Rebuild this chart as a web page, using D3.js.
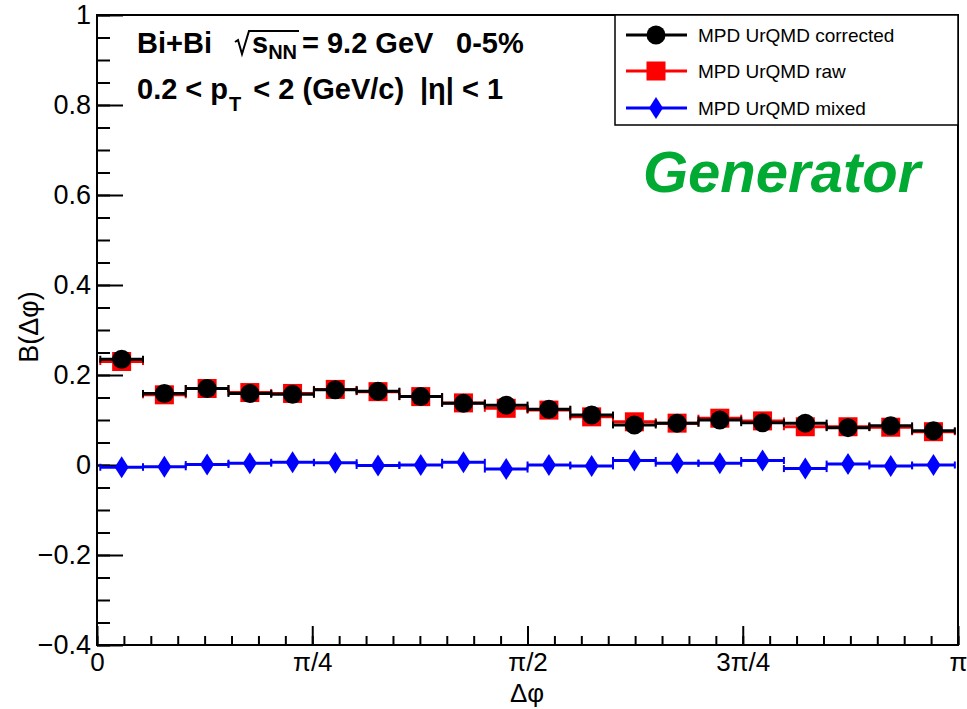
<!doctype html>
<html lang="en">
  <head>
    <meta charset="UTF-8" />
    <title>B(dphi) Bi+Bi</title>
    <script src="https://d3js.org/d3.v7.min.js"></script>
    <style>
      body { margin: 0; background: #fff; }
      text { font-family: "Liberation Sans", Arial, sans-serif; }
    </style>
  </head>
  <body>
    <div id="graph"></div>
    <script>
    // histogram content, 20 bins in delta phi
    var nBins = 20;
    var phiMin = 0.012, phiMax = 3.130;
    var corrected = [0.235, 0.159, 0.170, 0.159, 0.157, 0.167, 0.164, 0.152, 0.137, 0.133,
                     0.124, 0.111, 0.089, 0.093, 0.100, 0.094, 0.093, 0.083, 0.087, 0.076];
    var raw = [0.230, 0.156, 0.170, 0.161, 0.159, 0.168, 0.163, 0.152, 0.138, 0.126,
               0.122, 0.107, 0.096, 0.093, 0.104, 0.098, 0.085, 0.085, 0.084, 0.074];
    var mixed = [-0.005, -0.004, 0.001, 0.004, 0.006, 0.005, -0.001, 0.000, 0.006, -0.009,
                 0.000, -0.002, 0.010, 0.004, 0.004, 0.010, -0.008, 0.002, -0.002, 0.000];

    var xTickValues = [0, Math.PI / 4, Math.PI / 2, 3 * Math.PI / 4, Math.PI];
    var xTickLabels = ["0", "\u03c0/4", "\u03c0/2", "3\u03c0/4", "\u03c0"];
    var yTickValues = [-0.4, -0.2, 0, 0.2, 0.4, 0.6, 0.8, 1];
    var yTickLabels = ["\u22120.4", "\u22120.2", "0", "0.2", "0.4", "0.6", "0.8", "1"];

    var legendNames = ["MPD UrQMD corrected", "MPD UrQMD raw", "MPD UrQMD mixed"];

    var width = 967, height = 709;
    var padL = 97, padR = 958, padT = 15, padB = 645;

    var svg = d3.select("#graph").append("svg")
        .attr("width", width)
        .attr("height", height);

    var x = d3.scaleLinear().domain([0, Math.PI]).range([padL, padR]);
    var y = d3.scaleLinear().domain([-0.4, 1]).range([padB, padT]);

    var binW = (phiMax - phiMin) / nBins;

    // axes (ticks point inwards like ROOT)
    var xMinor = d3.range(0, 33).map(function(i) { return i * Math.PI / 32; });
    var yMinor = d3.range(-8, 21).map(function(i) { return i * 0.05; });

    svg.append("g")
        .attr("transform", "translate(0," + padB + ")")
        .call(d3.axisBottom(x).tickValues(xMinor).tickSize(-9).tickFormat(""))
        .call(function(g) { g.select(".domain").remove(); });
    svg.append("g")
        .attr("class", "xaxis")
        .attr("transform", "translate(0," + padB + ")")
        .call(d3.axisBottom(x).tickValues(xTickValues).tickSize(-19).tickPadding(8)
            .tickFormat(function(d, i) { return xTickLabels[i]; }))
        .call(function(g) { g.select(".domain").remove(); });

    svg.append("g")
        .attr("transform", "translate(" + padL + ",0)")
        .call(d3.axisLeft(y).tickValues(yMinor).tickSize(-13).tickFormat(""))
        .call(function(g) { g.select(".domain").remove(); });
    svg.append("g")
        .attr("class", "yaxis")
        .attr("transform", "translate(" + padL + ",0)")
        .call(d3.axisLeft(y).tickValues(yTickValues).tickSize(-26).tickPadding(6)
            .tickFormat(function(d, i) { return yTickLabels[i]; }))
        .call(function(g) { g.select(".domain").remove(); });

    svg.selectAll(".tick line").attr("stroke", "#000").attr("stroke-width", 2);
    svg.selectAll(".yaxis text")
        .attr("font-size", 27)
        .attr("font-family", "Liberation Sans, Arial, sans-serif")
        .attr("fill", "#000");
    svg.selectAll(".xaxis text")
        .attr("font-size", 26)
        .attr("font-family", "Liberation Sans, Arial, sans-serif")
        .attr("fill", "#000");

    // frame
    svg.append("rect")
        .attr("x", padL).attr("y", padT)
        .attr("width", padR - padL).attr("height", padB - padT)
        .attr("fill", "none").attr("stroke", "#000").attr("stroke-width", 2);

    // axis titles
    svg.append("text")
        .attr("x", 527).attr("y", 702)
        .attr("text-anchor", "middle")
        .attr("font-size", 26)
        .text("\u0394\u03c6");
    svg.append("text")
        .attr("transform", "translate(38,327) rotate(-90)")
        .attr("text-anchor", "middle")
        .attr("font-size", 27)
        .text("B(\u0394\u03c6)");

    // markers
    function marker(g, type, cx, cy, color) {
        if (type === "circle") {
            g.append("circle").attr("cx", cx).attr("cy", cy).attr("r", 9.5).attr("fill", color);
        } else if (type === "square") {
            g.append("rect").attr("x", cx - 9.5).attr("y", cy - 9.5)
                .attr("width", 19).attr("height", 19).attr("fill", color);
        } else {
            g.append("path")
                .attr("d", "M" + cx + "," + (cy - 11) + "L" + (cx + 7) + "," + cy +
                    "L" + cx + "," + (cy + 11) + "L" + (cx - 7) + "," + cy + "Z")
                .attr("fill", color);
        }
    }

    function drawSeries(values, color, type) {
        var g = svg.append("g");
        values.forEach(function(v, i) {
            var lo = phiMin + i * binW, hi = lo + binW;
            var x0 = x(lo), x1 = x(hi), yy = y(v);
            g.append("line").attr("x1", x0).attr("x2", x1).attr("y1", yy).attr("y2", yy)
                .attr("stroke", color).attr("stroke-width", 3);
            [x0, x1].forEach(function(xe) {
                g.append("line").attr("x1", xe).attr("x2", xe)
                    .attr("y1", yy - 3.5).attr("y2", yy + 3.5)
                    .attr("stroke", color).attr("stroke-width", 2);
            });
        });
        values.forEach(function(v, i) {
            var c = phiMin + (i + 0.5) * binW;
            marker(g, type, x(c), y(v), color);
        });
    }

    drawSeries(raw, "#ff0000", "square");
    drawSeries(corrected, "#000000", "circle");
    drawSeries(mixed, "#0000ff", "diamond");

    // legend
    var leg = svg.append("g");
    leg.append("rect")
        .attr("x", 615).attr("y", 15).attr("width", 343).attr("height", 110)
        .attr("fill", "#fff").attr("stroke", "#000").attr("stroke-width", 1.5);
    var legColors = ["#000000", "#ff0000", "#0000ff"];
    var legTypes = ["circle", "square", "diamond"];
    var legY = [35, 71, 108];
    legendNames.forEach(function(name, i) {
        leg.append("line").attr("x1", 626).attr("x2", 687)
            .attr("y1", legY[i]).attr("y2", legY[i])
            .attr("stroke", legColors[i]).attr("stroke-width", 3);
        marker(leg, legTypes[i], 656, legY[i], legColors[i]);
        leg.append("text")
            .attr("x", 698).attr("y", legY[i] + 7)
            .attr("font-size", 19)
            .text(name);
    });

    // annotation text
    var note = svg.append("g").attr("font-weight", "bold").attr("font-size", 29);
    var l1 = note.append("text").attr("y", 53);
    l1.append("tspan").attr("x", 137).text("Bi+Bi");
    l1.append("tspan").attr("x", 252).text("s");
    l1.append("tspan").attr("font-size", 20).attr("dy", 6).text("NN");
    l1.append("tspan").attr("x", 302).attr("dy", -6).text("= 9.2 GeV");
    l1.append("tspan").attr("x", 456).text("0-5%");
    note.append("path")
        .attr("d", "M235,42 L238,40 L242,54 L249,31 L299,31")
        .attr("fill", "none").attr("stroke", "#000").attr("stroke-width", 2);

    var l2 = note.append("text").attr("y", 99);
    l2.append("tspan").attr("x", 137).text("0.2 < p");
    l2.append("tspan").attr("font-size", 20).attr("dx", 1).attr("dy", 12).text("T");
    l2.append("tspan").attr("dy", -12).attr("dx", 4).text(" < 2 (GeV/c)");
    l2.append("tspan").attr("x", 420).text("|\u03b7| < 1");

    svg.append("text")
        .attr("x", 643).attr("y", 192)
        .attr("font-size", 58)
        .attr("font-weight", "bold")
        .attr("font-style", "italic")
        .attr("fill", "rgb(0,170,51)")
        .text("Generator");
    </script>
  </body>
</html>
